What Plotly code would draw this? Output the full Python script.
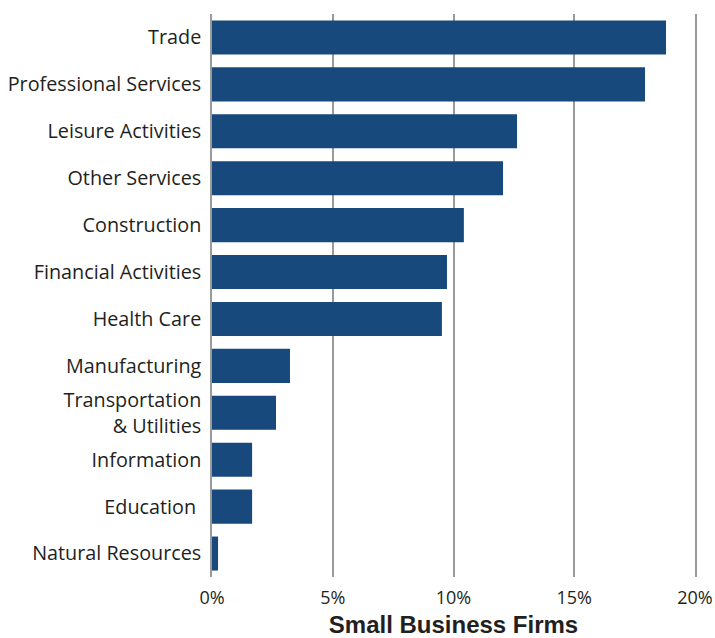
import plotly.graph_objects as go

categories = ["Trade", "Professional Services", "Leisure Activities", "Other Services",
              "Construction", "Financial Activities", "Health Care", "Manufacturing",
              "Transportation<br>& Utilities", "Information", "Education\u00a0", "Natural Resources"]
values = [18.80, 17.93, 12.63, 12.05, 10.43, 9.73, 9.52, 3.23, 2.65, 1.66, 1.66, 0.25]
tick_vals = [0, 5, 10, 15, 20]
tick_text = ["0%", "5%", "10%", "15%", "20%"]

fig = go.Figure(go.Bar(
    x=values, y=categories, orientation="h",
    marker=dict(color="#17497c", line=dict(width=0)),
    hoverinfo="x+y",
))

fig.update_layout(
    width=715, height=638,
    margin=dict(l=212, r=20, t=14, b=61, autoexpand=False),
    paper_bgcolor="white", plot_bgcolor="white",
    bargap=0.275,
    showlegend=False,
    font=dict(family="Open Sans", color="#231f20", size=19),
)
fig.update_xaxes(
    range=[0, 20], tickvals=tick_vals, ticktext=tick_text,
    showgrid=True, gridcolor="#9a9a9a", gridwidth=1.5,
    zeroline=False, showline=False, ticks="", automargin=False,
    ticklabelstandoff=8,
    tickfont=dict(size=18, family="Open Sans", color="#231f20"),
    title=dict(text="Small Business Firms",
               font=dict(family="Liberation Sans", size=24, color="#231f20", weight="bold"),
               standoff=15),
)
fig.update_yaxes(
    autorange="reversed", categoryorder="array", categoryarray=categories,
    showgrid=False, zeroline=False, ticks="", automargin=False,
    showline=True, mirror=True, linecolor="#9a9a9a", linewidth=1.5,
    ticklabelstandoff=5,
    tickfont=dict(size=19.8, family="Open Sans", color="#231f20"),
)
fig.write_html("out.html", config={"displayModeBar": False},
               post_script="document.body.style.margin='0';")
